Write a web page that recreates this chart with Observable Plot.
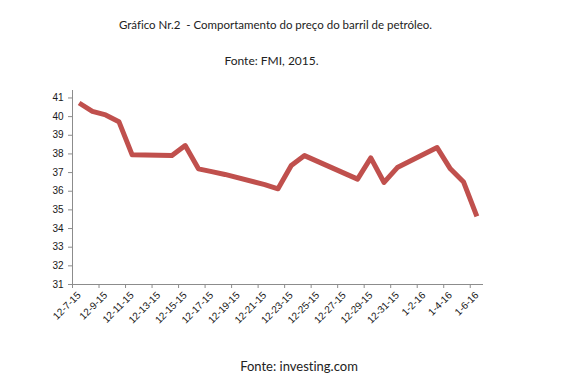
<!DOCTYPE html>
<html>
<head>
<meta charset="utf-8">
<script src="https://cdn.jsdelivr.net/npm/d3@7"></script>
<script src="https://cdn.jsdelivr.net/npm/@observablehq/plot@0.6"></script>
<style>
  html, body { margin: 0; padding: 0; background: #fff; }
  #chart { width: 568px; height: 391px; position: relative; }
</style>
</head>
<body>
<div id="chart"></div>
<script>
// Data (Brent price, USD per barrel)
const dates = ["2015-12-07","2015-12-08","2015-12-09","2015-12-10","2015-12-11","2015-12-14","2015-12-15","2015-12-16","2015-12-17","2015-12-18","2015-12-21","2015-12-22","2015-12-23","2015-12-24","2015-12-28","2015-12-29","2015-12-30","2015-12-31","2016-01-03","2016-01-04","2016-01-05","2016-01-06"];
const prices = [40.73, 40.28, 40.09, 39.73, 37.95, 37.91, 38.45, 37.2, 37.05, 36.9, 36.35, 36.13, 37.38, 37.91, 36.65, 37.79, 36.47, 37.27, 38.34, 37.2, 36.49, 34.65];
const tickLabelDates = ["2015-12-07","2015-12-09","2015-12-11","2015-12-13","2015-12-15","2015-12-17","2015-12-19","2015-12-21","2015-12-23","2015-12-25","2015-12-27","2015-12-29","2015-12-31","2016-01-02","2016-01-04","2016-01-06"];
const yTicks = [31, 32, 33, 34, 35, 36, 37, 38, 39, 40, 41];
const title = "Gráfico Nr.2  - Comportamento do preço do barril de petróleo.";
const subtitle = "Fonte: FMI, 2015.";
const caption = "Fonte: investing.com";

const HALF_DAY = 12 * 3600 * 1000;
const parse = s => new Date(s + "T00:00:00Z");
// Excel date axis: each point sits at the middle of its day slot
const rows = dates.map((d, i) => ({date: new Date(parse(d).getTime() + HALF_DAY), price: prices[i]}));
const labelTicks = tickLabelDates.map(d => new Date(parse(d).getTime() + HALF_DAY));
const boundaryTicks = tickLabelDates.map(parse);
const fmt = d => `${d.getUTCMonth() + 1}-${d.getUTCDate()}-${String(d.getUTCFullYear()).slice(2)}`;

const axisColor = "#8c8c8c";
const plot = Plot.plot({
  width: 568,
  height: 391,
  marginLeft: 72,
  marginRight: 85,
  marginTop: 90,
  marginBottom: 107,
  style: {fontFamily: "'Liberation Sans', Arial, sans-serif", fontSize: "10px", color: "#1a1a1a", background: "#fff"},
  x: {type: "utc", domain: [parse("2015-12-07"), parse("2016-01-07")]},
  y: {domain: [31, 41.4]},
  marks: [
    Plot.ruleY([31], {stroke: axisColor, strokeWidth: 1}),
    Plot.ruleX([parse("2015-12-07")], {stroke: axisColor, strokeWidth: 1}),
    Plot.axisY({ticks: yTicks, tickSize: 4, tickPadding: 5, stroke: axisColor, tickFormat: d => String(d), label: null, fill: "#1a1a1a"}),
    Plot.axisX({ticks: boundaryTicks, tickSize: 4, stroke: axisColor, text: null, label: null}),
    Plot.axisX({ticks: labelTicks, tickSize: 0, tickPadding: 9, tickRotate: -45, tickFormat: fmt, label: null, fill: "#1a1a1a"}),
    Plot.line(rows, {x: "date", y: "price", stroke: "#c0504d", strokeWidth: 5, strokeLinejoin: "round", strokeLinecap: "butt"})
  ]
});

const svg = d3.select(plot);
const tf = "Lato, 'Open Sans', sans-serif";
const addText = (x, y, size, s) => svg.append("text").attr("x", x).attr("y", y).attr("text-anchor", "middle")
  .attr("font-family", tf).attr("font-size", size).attr("fill", "#222")
  .style("font-variant-ligatures", "none").text(s);
addText(275.5, 29, 11.5, title);
addText(271.5, 65, 12, subtitle);
addText(299, 371, 13, caption);

document.getElementById("chart").appendChild(plot);
</script>
</body>
</html>
